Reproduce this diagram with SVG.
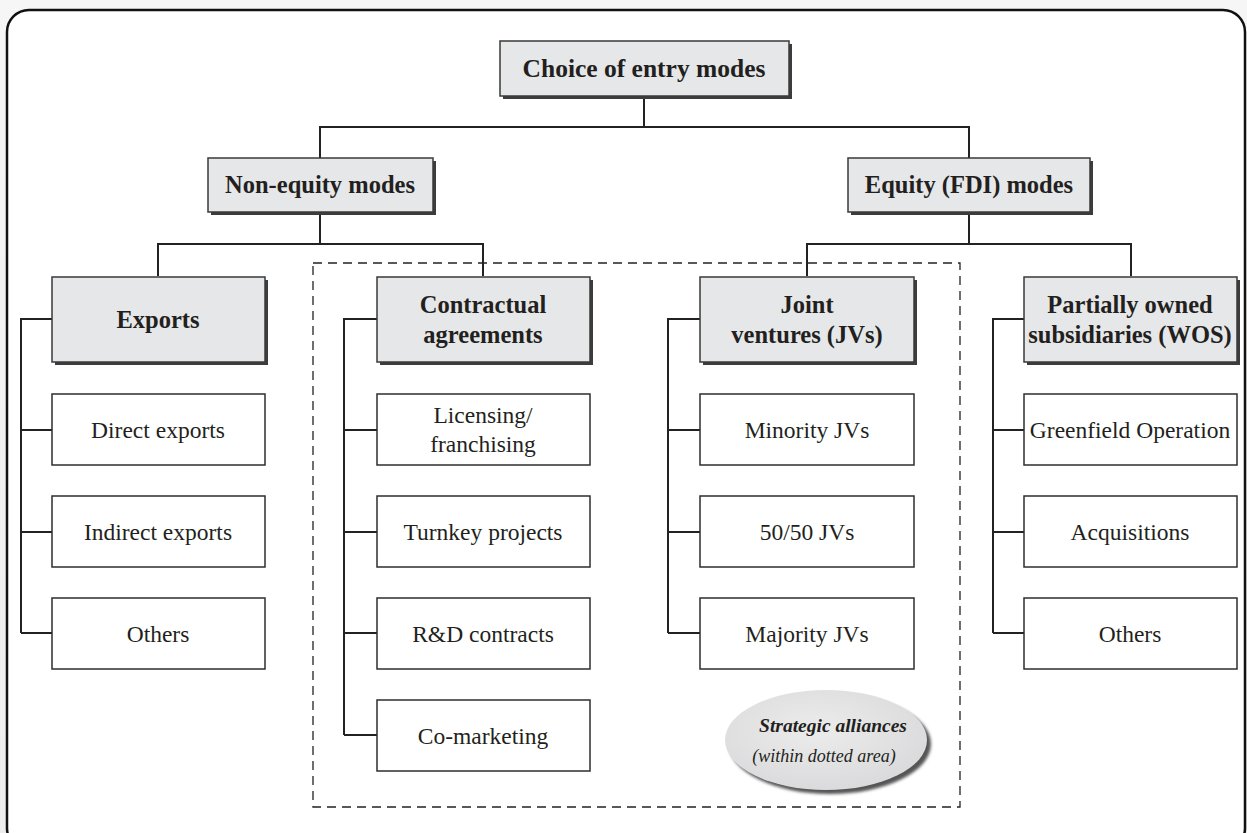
<svg xmlns="http://www.w3.org/2000/svg" width="1247" height="833" viewBox="0 0 1247 833">
  <defs>
    <linearGradient id="topHaze" x1="0" y1="0" x2="0" y2="1">
      <stop offset="0" stop-color="#f6f6f6"/>
      <stop offset="1" stop-color="#ededed"/>
    </linearGradient>
    <radialGradient id="ovalFill" cx="0.45" cy="0.4" r="0.65">
      <stop offset="0" stop-color="#ececec"/>
      <stop offset="1" stop-color="#d9d9db"/>
    </radialGradient>
    <filter id="blurShadow" x="-20%" y="-20%" width="140%" height="140%">
      <feGaussianBlur stdDeviation="1.5"/>
    </filter>
  </defs>
  <style>
    .hdr rect.face { fill: #e6e7e8; stroke: #3a3a3a; stroke-width: 1.5; }
    .hdr rect.shade { fill: #3c3c3c; }
    .leaf rect { fill: #ffffff; stroke: #2e2e2e; stroke-width: 1.5; }
    .hdr text { font-family: "Liberation Serif", "DejaVu Serif", serif; font-weight: bold; font-size: 24.5px; fill: #231f20; text-anchor: middle; }
    #entry-modes text { font-size: 25.5px; }
    .leaf text { font-family: "Liberation Serif", "DejaVu Serif", serif; font-size: 23.5px; fill: #231f20; text-anchor: middle; }
    #alliance-label text { font-family: "Liberation Serif", "DejaVu Serif", serif; font-style: italic; fill: #231f20; text-anchor: middle; }
    #connectors path { fill: none; stroke: #222; stroke-width: 2; }
    #alliance-area { fill: none; stroke: #222; stroke-width: 1.3; stroke-dasharray: 9 6; }
  </style>

  <!-- page background and rounded frame -->
  <rect x="0" y="0" width="1247" height="833" fill="url(#topHaze)"/>
  <rect x="7" y="10" width="1238" height="840" rx="22" ry="22" fill="#ffffff" stroke="#111" stroke-width="2.5"/>

  <!-- strategic alliances zone -->
  <rect id="alliance-area" x="313" y="263" width="647" height="544"/>

  <!-- connectors -->
  <g id="connectors">
    <path d="M644 96 V127 M320 158 V127 H969 V158"/>
    <path d="M320 212 V244 M158 276 V244 H483 V276"/>
    <path d="M969 212 V244 M807 276 V244 H1131 V276"/>
    <path d="M52 319 H21 V633 M21 430 H52 M21 532 H52 M21 633 H52"/>
    <path d="M377 319 H344 V735 M344 430 H377 M344 532 H377 M344 633 H377 M344 735 H377"/>
    <path d="M700 319 H668 V633 M668 430 H700 M668 532 H700 M668 633 H700"/>
    <path d="M1024 319 H993 V633 M993 430 H1024 M993 532 H1024 M993 633 H1024"/>
  </g>

  <!-- top level -->
  <g id="entry-modes" class="hdr">
    <rect class="shade" x="503" y="44" width="289" height="55"/>
    <rect class="face" x="500" y="41" width="289" height="55"/>
    <text x="644" y="77">Choice of entry modes</text>
  </g>

  <!-- second level -->
  <g id="non-equity" class="hdr">
    <rect class="shade" x="211" y="161" width="225" height="54"/>
    <rect class="face" x="208" y="158" width="225" height="54"/>
    <text x="320" y="193">Non-equity modes</text>
  </g>
  <g id="equity" class="hdr">
    <rect class="shade" x="851" y="161" width="242" height="54"/>
    <rect class="face" x="848" y="158" width="242" height="54"/>
    <text x="969" y="193">Equity (FDI) modes</text>
  </g>

  <!-- third level -->
  <g id="exports" class="hdr">
    <rect class="shade" x="55" y="280" width="213" height="85"/>
    <rect class="face" x="52" y="277" width="213" height="85"/>
    <text x="158" y="328">Exports</text>
  </g>
  <g id="contractual" class="hdr">
    <rect class="shade" x="380" y="280" width="213" height="85"/>
    <rect class="face" x="377" y="277" width="213" height="85"/>
    <text x="483" y="313">Contractual</text>
    <text x="483" y="343">agreements</text>
  </g>
  <g id="joint-ventures" class="hdr">
    <rect class="shade" x="703" y="280" width="214" height="85"/>
    <rect class="face" x="700" y="277" width="214" height="85"/>
    <text x="807" y="313">Joint</text>
    <text x="807" y="343">ventures (JVs)</text>
  </g>
  <g id="subsidiaries" class="hdr">
    <rect class="shade" x="1027" y="280" width="213" height="85"/>
    <rect class="face" x="1024" y="277" width="213" height="85"/>
    <text x="1130" y="313">Partially owned</text>
    <text x="1130" y="343">subsidiaries (WOS)</text>
  </g>

  <!-- export modes -->
  <g id="direct-exports" class="leaf">
    <rect x="52" y="394" width="213" height="71"/>
    <text x="158" y="438">Direct exports</text>
  </g>
  <g id="indirect-exports" class="leaf">
    <rect x="52" y="496" width="213" height="71"/>
    <text x="158" y="540">Indirect exports</text>
  </g>
  <g id="export-others" class="leaf">
    <rect x="52" y="598" width="213" height="71"/>
    <text x="158" y="642">Others</text>
  </g>

  <!-- contractual modes -->
  <g id="licensing" class="leaf">
    <rect x="377" y="394" width="213" height="71"/>
    <text x="483" y="423">Licensing/</text>
    <text x="483" y="452">franchising</text>
  </g>
  <g id="turnkey" class="leaf">
    <rect x="377" y="496" width="213" height="71"/>
    <text x="483" y="540">Turnkey projects</text>
  </g>
  <g id="rd-contracts" class="leaf">
    <rect x="377" y="598" width="213" height="71"/>
    <text x="483" y="642">R&amp;D contracts</text>
  </g>
  <g id="co-marketing" class="leaf">
    <rect x="377" y="700" width="213" height="71"/>
    <text x="483" y="744">Co-marketing</text>
  </g>

  <!-- joint venture modes -->
  <g id="minority-jv" class="leaf">
    <rect x="700" y="394" width="214" height="71"/>
    <text x="807" y="438">Minority JVs</text>
  </g>
  <g id="equal-jv" class="leaf">
    <rect x="700" y="496" width="214" height="71"/>
    <text x="807" y="540">50/50 JVs</text>
  </g>
  <g id="majority-jv" class="leaf">
    <rect x="700" y="598" width="214" height="71"/>
    <text x="807" y="642">Majority JVs</text>
  </g>

  <!-- subsidiary modes -->
  <g id="greenfield" class="leaf">
    <rect x="1024" y="394" width="213" height="71"/>
    <text x="1130" y="438">Greenfield Operation</text>
  </g>
  <g id="acquisitions" class="leaf">
    <rect x="1024" y="496" width="213" height="71"/>
    <text x="1130" y="540">Acquisitions</text>
  </g>
  <g id="subsidiary-others" class="leaf">
    <rect x="1024" y="598" width="213" height="71"/>
    <text x="1130" y="642">Others</text>
  </g>

  <!-- alliance label -->
  <g id="alliance-label">
    <ellipse cx="830" cy="744" rx="101" ry="50" fill="#555" filter="url(#blurShadow)"/>
    <ellipse cx="826" cy="740" rx="101" ry="50" fill="url(#ovalFill)"/>
    <text x="833" y="732" font-size="19.5" font-weight="bold">Strategic alliances</text>
    <text x="824" y="762" font-size="18">(within dotted area)</text>
  </g>
</svg>
